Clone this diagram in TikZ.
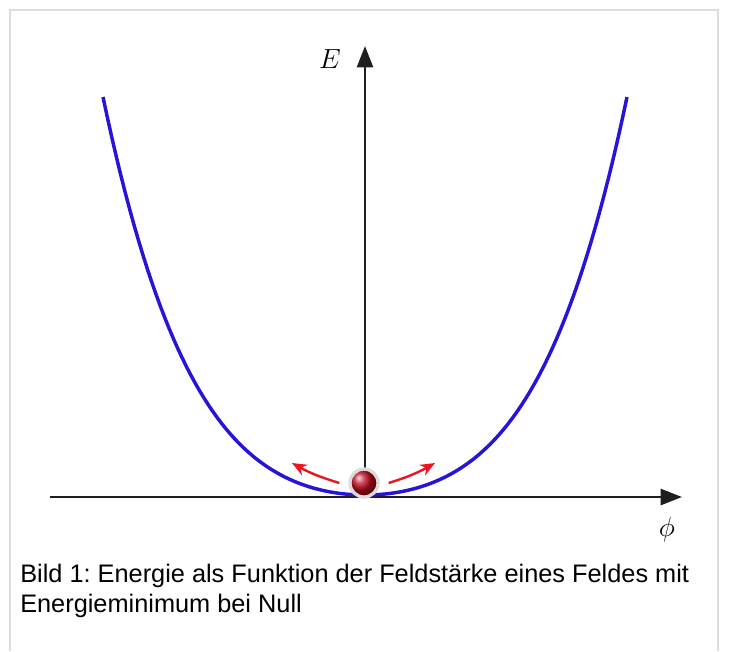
\documentclass[tikz,border=0pt]{standalone}
\usepackage{fontspec}
\setsansfont{Liberation Sans}
\usepackage{tikz}
\usepackage{xcolor}
\usetikzlibrary{arrows.meta, positioning, calc}
\definecolor{cFrame}{RGB}{220,220,220}
\definecolor{cAxis}{RGB}{30,30,30}
\definecolor{cCurve}{RGB}{40,20,215}
\definecolor{cRed}{RGB}{235,20,35}
\definecolor{cBall}{RGB}{190,10,30}
\tikzset{
    axisline/.style={draw=cAxis, line width=1.9pt, -{Triangle[length=16pt, width=12pt]}},
    energycurve/.style={draw=cCurve, line width=2.6pt},
    pusharrow/.style={draw=cRed, line width=1.8pt, -{Stealth[length=11pt, width=9pt]}},
    axislabel/.style={font=\fontsize{20}{24}\selectfont},
    caption/.style={font=\sffamily\fontsize{19}{22}\selectfont, align=left, inner sep=0pt},
}
\frenchspacing
\begin{document}
\begin{tikzpicture}[x=0.75pt, y=-0.75pt]
        \useasboundingbox (0,0) rectangle (731,651);
        % frame
        \draw[cFrame, line width=1.5pt] (10,651) -- (10,10) -- (718,10) -- (718,651);
        % axes
        \coordinate (origin) at (365,497);
        \coordinate (xleft) at (50,497);
        \coordinate (xright) at (682,497);
        \coordinate (ytop) at (365,46);
        \draw[axisline] (xleft) -- (xright);
        \draw[axisline] (origin) -- (ytop);
        \node[axislabel] (Elabel) at (330,59) {$E$};
        \node[axislabel] (philabel) at (667,530) {$\phi$};
        % energy curve
        \draw[energycurve] plot[domain=-262:262, samples=120]
            ({365+\x},{495-398*(0.43*(\x/262)*(\x/262)+0.57*(\x/262)*(\x/262)*(\x/262)*(\x/262))});
        % ball at the minimum
        \node[circle, minimum size=21pt, inner sep=0pt, draw=cFrame, line width=2.5pt,
              ball color=cBall] (ball) at (364,483) {};
        % small pushes to either side
        \coordinate (lefttip) at (292,463);
        \coordinate (righttip) at (435,463);
        \draw[pusharrow] ($(ball.west)+(-9,0)$) to[bend left=6] (lefttip);
        \draw[pusharrow] ($(ball.east)+(9,0)$) to[bend right=6] (righttip);
        % caption
        \node[caption, anchor=base west] (caption) at (20,612)
            {Bild 1: Energie als Funktion der Feldstärke eines Feldes mit\\Energieminimum bei Null};
    \end{tikzpicture}
\end{document}
